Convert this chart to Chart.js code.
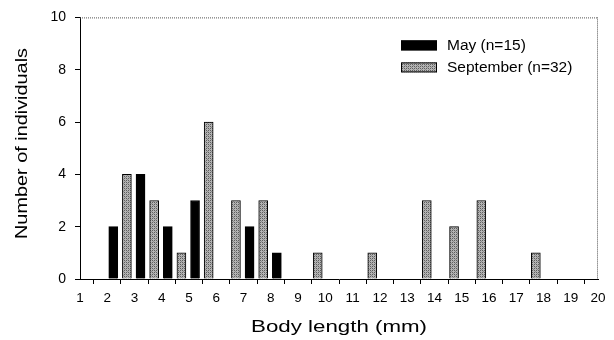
<!DOCTYPE html>
<html>
<head>
<meta charset="utf-8">
<script src="https://cdn.jsdelivr.net/npm/chart.js@4/dist/chart.umd.min.js"></script>
<style>
  html, body { margin: 0; background: #fff; }
  #wrap { width: 614px; height: 340px; }
</style>
</head>
<body>
<div id="wrap"><canvas id="chart"></canvas></div>
<script>
// body length (mm) position of each bar and its count
const mayLengths = [2.22, 3.22, 4.22, 5.22, 7.22, 8.22];
const mayCounts = [2, 4, 2, 3, 2, 1];
const sepLengths = [2.72, 3.72, 4.72, 5.72, 6.72, 7.72, 9.72, 11.72, 13.72, 14.72, 15.72, 17.72];
const sepCounts = [4, 3, 1, 6, 3, 3, 1, 1, 3, 2, 3, 1];
const seriesLabels = ["May (n=15)", "September (n=32)"];
const xTicks = [1, 2, 3, 4, 5, 6, 7, 8, 9, 10, 11, 12, 13, 14, 15, 16, 17, 18, 19, 20];
const yTicks = [0, 2, 4, 6, 8, 10];
const xTitle = "Body length (mm)";
const yTitle = "Number of individuals";

const FONT = "Arial, 'Liberation Sans', sans-serif";
const canvas = document.getElementById("chart");
const ctx = canvas.getContext("2d");

function makeHatch() {
  const tile = document.createElement("canvas");
  tile.width = 4;
  tile.height = 4;
  const g = tile.getContext("2d");
  g.fillStyle = "#b4b4b4";
  g.fillRect(0, 0, 4, 4);
  g.fillStyle = "#5e5e5e";
  g.fillRect(0, 0, 1, 1);
  g.fillRect(2, 2, 1, 1);
  g.fillRect(2, 0, 1, 1);
  g.fillRect(0, 2, 1, 1);
  g.fillStyle = "#8c8c8c";
  g.fillRect(1, 1, 1, 1);
  g.fillRect(3, 3, 1, 1);
  return ctx.createPattern(tile, "repeat");
}
const hatch = makeHatch();

const toPoints = (xs, ys) => xs.map((x, i) => ({ x, y: ys[i] }));

// dotted top/right frame
const framePlugin = {
  id: "frame",
  afterDatasetsDraw(chart) {
    const { ctx, chartArea: a } = chart;
    ctx.save();
    ctx.strokeStyle = "#555";
    ctx.lineWidth = 1;
    ctx.setLineDash([1, 1]);
    ctx.beginPath();
    ctx.moveTo(a.left, a.top + 0.5);
    ctx.lineTo(a.right, a.top + 0.5);
    ctx.moveTo(a.right - 0.5, a.top);
    ctx.lineTo(a.right - 0.5, a.bottom);
    ctx.stroke();
    ctx.restore();
  }
};

// axis titles, the scanned type is a wide grotesque so stretch Arial along the line
function drawWide(ctx, text, cx, cy, angle, size, width) {
  ctx.save();
  ctx.font = size + "px " + FONT;
  const w = ctx.measureText(text).width;
  ctx.translate(cx, cy);
  ctx.rotate(angle);
  ctx.scale(width / w, 1);
  ctx.textAlign = "center";
  ctx.textBaseline = "middle";
  ctx.fillStyle = "#000";
  ctx.fillText(text, 0, 0);
  ctx.restore();
}

const titlePlugin = {
  id: "axisTitles",
  afterDraw(chart) {
    const { ctx, chartArea: a } = chart;
    drawWide(ctx, xTitle, (a.left + a.right) / 2, 327, 0, 17, 176);
    drawWide(ctx, yTitle, 22, 143.5, -Math.PI / 2, 17, 191);
  }
};

// legend box inside the plot, top right
const legendPlugin = {
  id: "innerLegend",
  afterDraw(chart) {
    const { ctx, chartArea: a } = chart;
    const x = a.right - 197;
    let y = a.top + 23;
    ctx.save();
    ctx.font = "15.5px " + FONT;
    ctx.textBaseline = "middle";
    chart.data.datasets.forEach((ds) => {
      ctx.fillStyle = ds.backgroundColor;
      ctx.fillRect(x, y, 36, 10);
      ctx.strokeStyle = "#000";
      ctx.lineWidth = 1;
      ctx.strokeRect(x + 0.5, y + 0.5, 35, 9);
      ctx.fillStyle = "#000";
      ctx.fillText(ds.label, x + 46, y + 5);
      y += 22;
    });
    ctx.restore();
  }
};

new Chart(canvas, {
  type: "bar",
  data: {
    datasets: [
      {
        label: seriesLabels[0],
        data: toPoints(mayLengths, mayCounts),
        backgroundColor: "#000",
        borderColor: "#000",
        borderWidth: 1,
        barThickness: 9,
        grouped: false
      },
      {
        label: seriesLabels[1],
        data: toPoints(sepLengths, sepCounts),
        backgroundColor: hatch,
        borderColor: "#000",
        borderWidth: 1,
        barThickness: 9,
        grouped: false
      }
    ]
  },
  options: {
    responsive: true,
    maintainAspectRatio: false,
    animation: false,
    layout: { padding: { top: 15, right: 16, left: 0, bottom: 0 } },
    plugins: {
      legend: { display: false },
      tooltip: { enabled: false }
    },
    scales: {
      x: {
        type: "linear",
        offset: false,
        min: xTicks[0],
        max: xTicks[xTicks.length - 1],
        afterBuildTicks: (scale) => { scale.ticks = xTicks.map((v) => ({ value: v })); },
        afterFit: (scale) => { scale.height = 61; },
        grid: { drawOnChartArea: false, tickLength: 5, color: "#000" },
        border: { color: "#000", width: 1 },
        ticks: { color: "#000", padding: 6, maxRotation: 0, autoSkip: false, font: { family: FONT, size: 13.5 } },
        title: { display: false }
      },
      y: {
        min: yTicks[0],
        max: yTicks[yTicks.length - 1],
        afterBuildTicks: (scale) => { scale.ticks = yTicks.map((v) => ({ value: v })); },
        afterFit: (scale) => { scale.width = 80; },
        grid: { drawOnChartArea: false, tickLength: 5, color: "#000" },
        border: { color: "#000", width: 1 },
        ticks: { color: "#000", padding: 9, font: { family: FONT, size: 14 } },
        title: { display: false }
      }
    }
  },
  plugins: [framePlugin, titlePlugin, legendPlugin]
});
</script>
</body>
</html>
